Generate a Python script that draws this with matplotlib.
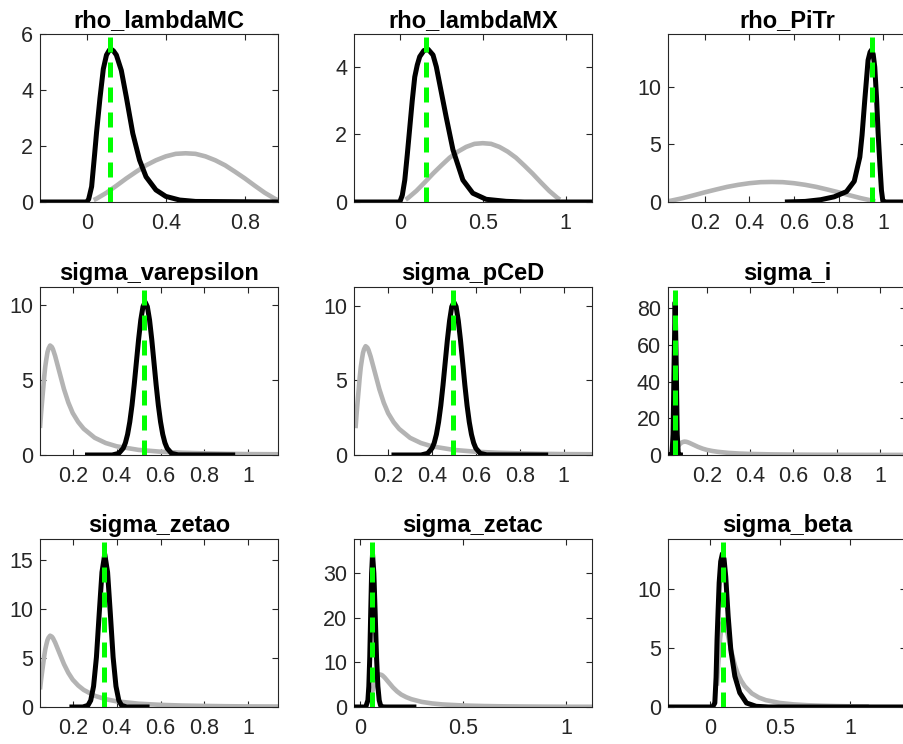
import numpy as np
import matplotlib
matplotlib.use('Agg')
import matplotlib.pyplot as plt

plt.rcParams['font.family'] = ['Liberation Sans', 'DejaVu Sans']

# ---- panel titles
titles = ['rho_lambdaMC', 'rho_lambdaMX', 'rho_PiTr',
          'sigma_varepsilon', 'sigma_pCeD', 'sigma_i',
          'sigma_zetao', 'sigma_zetac', 'sigma_beta']

# ---- prior densities (grey)
beta_prior_x = [0.035, 0.05, 0.1, 0.15, 0.2, 0.25, 0.3, 0.35, 0.4, 0.45, 0.5,
                0.55, 0.6, 0.65, 0.7, 0.75, 0.8, 0.85, 0.9, 0.95, 0.965]
beta_prior_y = [0.07, 0.12, 0.33, 0.58, 0.84, 1.08, 1.31, 1.49, 1.63, 1.72, 1.74,
                1.72, 1.63, 1.49, 1.31, 1.08, 0.84, 0.58, 0.33, 0.12, 0.07]

ig_prior_x = [0.051, 0.056, 0.06, 0.066, 0.07, 0.075, 0.08, 0.085, 0.09, 0.097, 0.105,
              0.11, 0.12, 0.13, 0.14, 0.16, 0.18, 0.2, 0.225, 0.25, 0.3, 0.35, 0.4,
              0.5, 0.6, 0.7, 0.8, 0.9, 1.0, 1.135]
ig_prior_y = [1.8, 2.8, 3.5, 4.5, 5.2, 5.9, 6.4, 6.85, 7.1, 7.3, 7.2,
              7.05, 6.6, 6.05, 5.5, 4.4, 3.5, 2.8, 2.2, 1.75, 1.15, 0.8, 0.58,
              0.34, 0.22, 0.15, 0.11, 0.08, 0.06, 0.05]

# ---- posterior densities (black)
post1_x = [-0.236, 0.0, 0.01, 0.025, 0.04, 0.05, 0.067, 0.084, 0.1, 0.115, 0.125,
           0.135, 0.15, 0.175, 0.2, 0.233, 0.267, 0.3, 0.35, 0.4, 0.47, 0.55, 0.967]
post1_y = [0.0, 0.0, 0.1, 0.55, 1.7, 2.5, 3.7, 4.75, 5.25, 5.43, 5.45,
           5.4, 5.25, 4.7, 3.76, 2.45, 1.5, 0.9, 0.43, 0.2, 0.07, 0.02, 0.0]

post2_x = [-0.276, 0.0, 0.015, 0.03, 0.045, 0.06, 0.075, 0.09, 0.105, 0.12, 0.145,
           0.17, 0.2, 0.22, 0.24, 0.28, 0.32, 0.38, 0.44, 0.52, 0.64, 0.75, 1.158]
post2_y = [0.0, 0.0, 0.2, 0.65, 1.4, 2.2, 3.0, 3.7, 4.05, 4.3, 4.48,
           4.52, 4.35, 4.0, 3.5, 2.5, 1.55, 0.65, 0.26, 0.08, 0.02, 0.0, 0.0]

post3_x = [0.559, 0.65, 0.72, 0.78, 0.835, 0.87, 0.895, 0.905, 0.917, 0.932, 0.941,
           0.948, 0.955, 0.962, 0.97, 0.977, 0.985, 0.992, 0.998, 1.005, 1.102]
post3_y = [0.0, 0.05, 0.2, 0.45, 0.9, 1.8, 3.9, 5.8, 8.8, 12.3, 13.0,
           13.2, 12.8, 11.7, 9.0, 6.0, 3.2, 1.0, 0.1, 0.0, 0.0]

post4_x = [0.256, 0.38, 0.41, 0.43, 0.44, 0.45, 0.46, 0.47, 0.48, 0.49, 0.5, 0.51, 0.52,
           0.53, 0.54, 0.55, 0.56, 0.57, 0.58, 0.59, 0.6, 0.61, 0.62, 0.63, 0.65,
           0.68, 0.94]
post4_y = [0.0, 0.0, 0.11, 0.45, 0.81, 1.38, 2.21, 3.31, 4.67, 6.19, 7.7, 9.0, 9.89,
           10.2, 9.89, 9.0, 7.7, 6.19, 4.67, 3.31, 2.21, 1.38, 0.81, 0.45, 0.11,
           0.01, 0.0]

post5_x = [0.215, 0.35, 0.38, 0.4, 0.41, 0.42, 0.43, 0.44, 0.45, 0.46, 0.47, 0.48, 0.49,
           0.5, 0.51, 0.52, 0.53, 0.54, 0.55, 0.56, 0.57, 0.58, 0.59, 0.6, 0.62,
           0.65, 0.93]
post5_y = [0.0, 0.0, 0.11, 0.45, 0.81, 1.38, 2.21, 3.31, 4.67, 6.19, 7.7, 9.0, 9.95,
           10.25, 9.95, 9.0, 7.7, 6.19, 4.67, 3.31, 2.21, 1.38, 0.81, 0.45, 0.11,
           0.01, 0.0]

post6_x = [0.021, 0.034, 0.0396, 0.0444, 0.0492, 0.054, 0.0588, 0.0636, 0.0684, 0.075, 0.09]
post6_y = [0.0, 0.0, 0.9, 11.3, 50.5, 83.3, 50.5, 11.3, 0.9, 0.0, 0.0]

post7_x = [0.185, 0.246, 0.2695, 0.282, 0.295, 0.308, 0.3205, 0.3332, 0.346, 0.3588,
           0.3715, 0.384, 0.397, 0.41, 0.4225, 0.446, 0.55]
post7_y = [0.0, 0.0, 0.17, 0.67, 2.12, 5.1, 9.5, 13.8, 15.65, 13.8,
           9.5, 5.1, 2.12, 0.67, 0.17, 0.0, 0.0]

post8_x = [-0.029, 0.028, 0.0385, 0.043, 0.0475, 0.052, 0.0565, 0.061, 0.0675, 0.074,
           0.0805, 0.087, 0.0935, 0.1, 0.111, 0.13, 0.274]
post8_y = [0.0, 0.0, 1.5, 4.64, 11.1, 20.8, 30.0, 34.3, 30.0, 20.8,
           11.1, 4.64, 1.5, 0.36, 0.02, 0.0, 0.0]

post9_x = [-0.298, 0.02, 0.036, 0.045, 0.052, 0.06, 0.067, 0.078, 0.09, 0.102, 0.114,
           0.131, 0.15, 0.179, 0.214, 0.262, 0.33, 0.42, 1.4]
post9_y = [0.0, 0.0, 0.34, 2.5, 5.7, 8.3, 10.5, 12.3, 12.95, 12.5, 11.0,
           7.7, 4.85, 2.6, 1.2, 0.34, 0.06, 0.0, 0.0]

# ---- posterior modes (green dashed)
modes = [0.116, 0.156, 0.948, 0.525, 0.495, 0.054, 0.344, 0.058, 0.095]

# ---- axis limits and ticks
xlims = [(-0.236, 0.967), (-0.276, 1.158), (0.035, 1.102),
         (0.051, 1.135), (0.044, 1.13), (0.021, 1.12),
         (0.051, 1.135), (-0.029, 1.127), (-0.298, 1.4)]
ytops = [6.0, 4.97, 14.57, 11.2, 11.27, 91.6, 17.2, 37.7, 14.2]
xtick_vals = [[0, 0.4, 0.8], [0, 0.5, 1], [0.2, 0.4, 0.6, 0.8, 1],
              [0.2, 0.4, 0.6, 0.8, 1], [0.2, 0.4, 0.6, 0.8, 1], [0.2, 0.4, 0.6, 0.8, 1],
              [0.2, 0.4, 0.6, 0.8, 1], [0, 0.5, 1], [0, 0.5, 1]]
ytick_vals = [[0, 2, 4, 6], [0, 2, 4], [0, 5, 10],
              [0, 5, 10], [0, 5, 10], [0, 20, 40, 60, 80],
              [0, 5, 10, 15], [0, 10, 20, 30], [0, 5, 10]]

posts = [(post1_x, post1_y), (post2_x, post2_y), (post3_x, post3_y),
         (post4_x, post4_y), (post5_x, post5_y), (post6_x, post6_y),
         (post7_x, post7_y), (post8_x, post8_y), (post9_x, post9_y)]
priors = [(beta_prior_x, beta_prior_y)] * 3 + [(ig_prior_x, ig_prior_y)] * 6

W, H = 904, 744
fig = plt.figure(figsize=(W / 100, H / 100), dpi=100)

col_left = [40, 354, 668]
row_top = [34, 287, 539]
ax_w, ax_h = 238, 168
axcol = '#262626'

def fmt(v):
    return ('%g' % v)

for i in range(9):
    r, c = divmod(i, 3)
    ax = fig.add_axes([col_left[c] / W, (H - row_top[r] - ax_h) / H, ax_w / W, ax_h / H])
    px, py = priors[i]
    ax.plot(px, py, color=(0.7, 0.7, 0.7), lw=3.3, solid_capstyle='butt', zorder=2)
    qx, qy = posts[i]
    ax.plot(qx, qy, color='k', lw=3.6, solid_capstyle='butt', zorder=3)
    ax.plot([modes[i], modes[i]], [0, ytops[i]], color=(0, 1, 0), lw=3.6,
            linestyle=(0, (3.0, 2.0)), zorder=4)
    ax.set_xlim(*xlims[i])
    ax.set_ylim(0, ytops[i])
    ax.set_xticks(xtick_vals[i])
    ax.set_xticklabels([fmt(v) for v in xtick_vals[i]])
    ax.set_yticks(ytick_vals[i])
    ax.set_yticklabels([fmt(v) for v in ytick_vals[i]])
    ax.tick_params(direction='in', length=4, width=0.8, colors=axcol,
                   labelsize=15.5, top=True, right=True)
    ax.tick_params(axis='x', pad=8)
    ax.tick_params(axis='y', pad=5)
    for s in ax.spines.values():
        s.set_color(axcol)
        s.set_linewidth(0.8)
    ax.set_title(titles[i], fontsize=17, fontweight='bold', color='k', pad=5)

fig.savefig('out.png', dpi=100)
